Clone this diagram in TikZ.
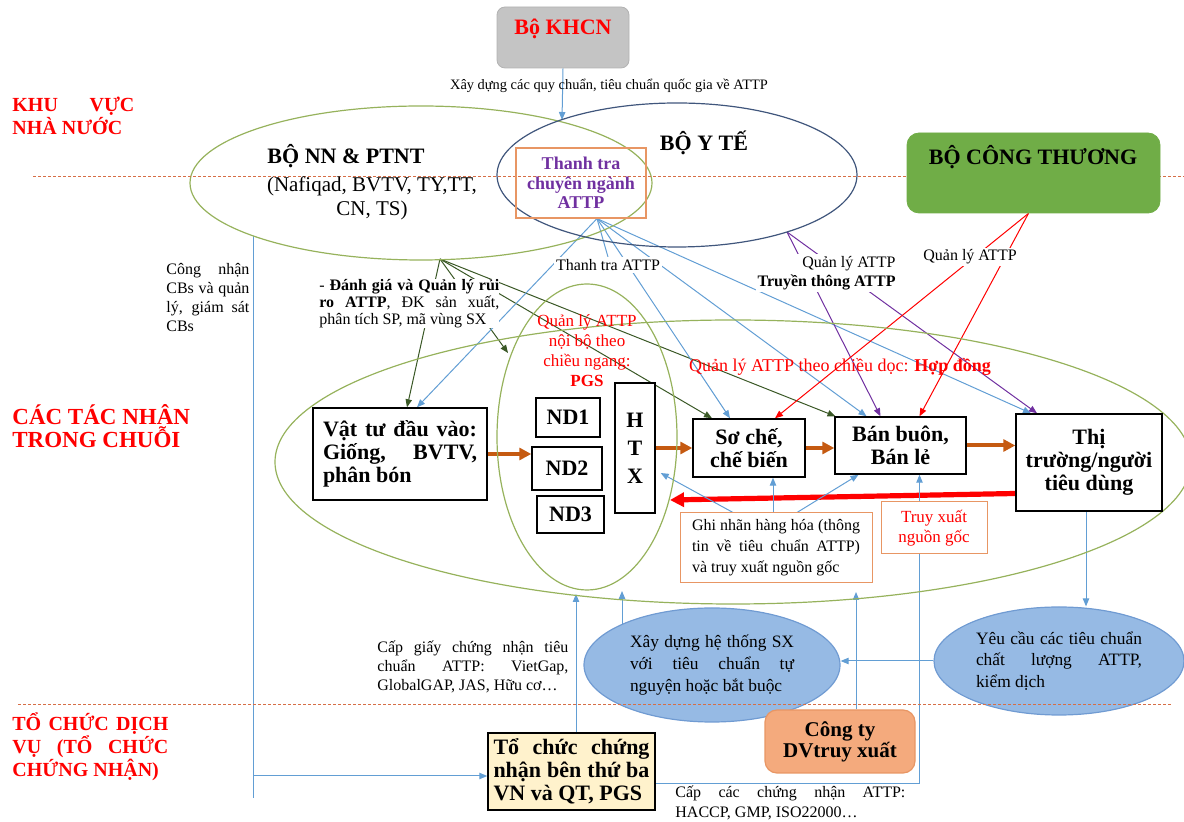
\documentclass[tikz,border=0pt]{standalone}
\usepackage{fontspec}
\setmainfont{Liberation Serif}
\usetikzlibrary{shapes.geometric, positioning, arrows.meta, calc}

\definecolor{ringgreen}{RGB}{150,178,92}
\definecolor{ytblue}{RGB}{64,86,124}
\definecolor{lineblue}{RGB}{98,158,212}
\definecolor{darkgreen}{RGB}{58,88,38}
\definecolor{attppurple}{RGB}{112,48,160}
\definecolor{flowbrown}{RGB}{197,90,17}
\definecolor{boxorange}{RGB}{232,150,100}
\definecolor{sepred}{RGB}{214,110,70}
\definecolor{ctgreen}{RGB}{112,173,71}
\definecolor{khcngray}{RGB}{196,196,196}
\definecolor{salmon}{RGB}{244,170,125}
\definecolor{paleyellow}{RGB}{255,242,204}
\definecolor{ellblue}{RGB}{150,186,228}
\definecolor{ellborder}{RGB}{112,155,210}

\pgfdeclarelayer{lines}
\pgfsetlayers{lines,main}

\begin{document}
\pretolerance=-1 \tolerance=10000 \hyphenpenalty=10000 \hbadness=10000
\begin{tikzpicture}[x=0.5pt, y=-0.5pt,
    every node/.style={font=\fontsize{8}{9.5}\selectfont, inner sep=1pt},
    ring/.style={ellipse, draw=ringgreen, line width=0.6pt, inner sep=0pt},
    bluering/.style={ellipse, draw=ellborder, fill=ellblue, line width=0.6pt, inner sep=0pt, text width=82pt, align=justify, font=\fontsize{8.7}{10.8}\selectfont},
    actor/.style={draw, line width=0.7pt, fill=white, inner sep=0pt, align=center, font=\fontsize{11}{11.5}\selectfont\bfseries},
    tagbox/.style={draw=boxorange, line width=0.5pt, fill=white, inner sep=2pt},
    region/.style={anchor=north west, text=red, align=justify, inner sep=0pt, font=\fontsize{10}{11.5}\selectfont\bfseries},
    note/.style={anchor=north west, align=justify, inner sep=0pt},
    cover/.style={fill=white, inner sep=1pt},
    link/.style={-{Triangle[length=4pt, width=3.2pt]}, line width=0.5pt},
    flow/.style={-{Triangle[length=6pt, width=6pt]}, line width=2pt, draw=flowbrown},
    backflow/.style={-{Triangle[length=7pt, width=7pt]}, line width=2.6pt, draw=red},
    sep/.style={draw=sepred, line width=0.5pt, dash pattern=on 1.5pt off 1pt}
]
    \useasboundingbox (0,0) rectangle (1184,822);

    % Region labels
    \node[region, text width=61pt] (khuvuc) at (12,97) {KHU VỰC\linebreak NHÀ NƯỚC};
    \node[region, align=left, font=\fontsize{11.5}{11.5}\selectfont\bfseries] (tacnhan) at (12,404) {CÁC TÁC NHÂN\\TRONG CHUỖI};
    \node[region, text width=78pt] (dichvu) at (12,712) {TỔ CHỨC DỊCH\linebreak VỤ (TỔ CHỨC\linebreak CHỨNG NHẬN)};

    % Rings
    \node[ring, minimum width=231pt, minimum height=77pt] (nn) at (421,183) {};
    \node[ring, draw=ytblue, minimum width=180pt, minimum height=72pt] (yt) at (677,175) {};
    \node[ring, minimum width=458pt, minimum height=142pt] (chain) at (733,462) {};
    \node[ring, minimum width=90pt, minimum height=153pt] (ndring) at (587,437) {};
    \node[bluering, minimum width=128pt, minimum height=57pt] (xaydung) at (712,665) {Xây dựng hệ thống SX\linebreak với tiêu chuẩn tự\linebreak nguyện hoặc bắt buộc};
    \node[bluering, minimum width=125pt, minimum height=54pt, text width=83pt] (yeucau) at (1059,661) {Yêu cầu các tiêu chuẩn\linebreak chất lượng ATTP,\linebreak kiểm dịch};

    % Sector borders
    \draw[sep] (33,177) -- (1184,177);
    \draw[sep] (18,705) -- (1172,705);

    % State level
    \node[draw=gray!60, fill=khcngray, rounded corners=4pt, minimum width=66pt, minimum height=30.5pt] (khcn) at (563,37.5) {};
    \node[text=red, font=\fontsize{11}{12}\selectfont\bfseries] (khcntext) at (563,29) {Bộ KHCN};
    \node[font=\fontsize{7.2}{8}\selectfont] (tieuchuan) at (609,86) {Xây dựng các quy chuẩn, tiêu chuẩn quốc gia về ATTP};
    \node[font=\fontsize{11}{12}\selectfont\bfseries] (nntitle) at (346,156) {BỘ NN \& PTNT};
    \node[font=\fontsize{10.5}{12}\selectfont, align=center] (nnsub) at (372,198) {(Nafiqad, BVTV, TY,TT,\\CN, TS)};
    \node[font=\fontsize{11}{12}\selectfont\bfseries] (yttitle) at (704,143) {BỘ Y TẾ};
    \node[draw=boxorange, line width=0.6pt, minimum width=65pt, minimum height=35pt, text=attppurple, align=center, font=\fontsize{9}{9.8}\selectfont\bfseries] (thanhtra) at (581,183) {Thanh tra\\chuyên ngành\\ATTP};
    \node[draw=ctgreen, fill=ctgreen, rounded corners=6pt, minimum width=126.5pt, minimum height=40pt] (ct) at (1033.5,173) {};
    \node[font=\fontsize{11}{12}\selectfont\bfseries] (cttext) at (1033,157) {BỘ CÔNG THƯƠNG};

    % Labels on the links
    \node[cover] (ttlabel) at (608,265) {Thanh tra ATTP};
    \node[cover, anchor=east, align=right] (truyenthong) at (898,273) {Quản lý ATTP\\\textbf{Truyền thông ATTP}};
    \node[cover] (ctlabel) at (970,257) {Quản lý ATTP};
    \node[note, text width=41.5pt] (congnhan) at (166,263) {Công nhận\linebreak CBs và quản\linebreak lý, giám sát\linebreak CBs};
    \node[note, fill=white, text width=90pt, font=\fontsize{8}{8.6}\selectfont] (danhgia) at (319,279) {- \textbf{Đánh giá và Quản lý rủi\linebreak ro ATTP}, ĐK sản xuất,\linebreak phân tích SP, mã vùng SX};
    \node[text=red, align=center, font=\fontsize{8.5}{10}\selectfont] (noibo) at (587,351) {Quản lý ATTP\\nội bộ theo\\chiều ngang:\\\textbf{PGS}};
    \node[text=red, font=\fontsize{9}{10}\selectfont] (doc) at (840,367) {Quản lý ATTP theo chiều dọc: \textbf{Hợp đồng}};

    % Actors in the chain
    \node[actor, minimum width=87pt, minimum height=46pt, text width=77pt, align=justify] (vattu) at (400,454) {Vật tư đầu vào:\linebreak Giống, BVTV,\linebreak phân bón};
    \node[actor, minimum width=32pt, minimum height=19.5pt] (nd1) at (568,417.5) {ND1};
    \node[actor, minimum width=35pt, minimum height=21.5pt] (nd2) at (567,468.5) {ND2};
    \node[actor, minimum width=33.5pt, minimum height=18.5pt] (nd3) at (570.5,514.5) {ND3};
    \node[actor, minimum width=20pt, minimum height=65pt, font=\fontsize{11}{14}\selectfont\bfseries] (htx) at (635,448) {H\\T\\X};
    \node[actor, minimum width=56pt, minimum height=29pt] (soche) at (749,448) {Sơ chế,\\chế biến};
    \node[actor, minimum width=65.5pt, minimum height=28.5pt] (banbuon) at (900.5,445.5) {Bán buôn,\\Bán lẻ};
    \node[actor, minimum width=73pt, minimum height=48.5pt] (thitruong) at (1089,462.5) {Thị\\trường/người\\tiêu dùng};
    \node[tagbox, minimum width=96pt, minimum height=35pt, text width=84pt, align=justify, font=\fontsize{8}{10.5}\selectfont] (ghinhan) at (776,548) {Ghi nhãn hàng hóa (thông\linebreak tin về tiêu chuẩn ATTP)\linebreak và truy xuất nguồn gốc};
    \node[tagbox, minimum width=53pt, minimum height=26pt, text=red, align=center, font=\fontsize{8.5}{10}\selectfont] (truyxuat) at (934,528) {Truy xuất\\nguồn gốc};

    % Service organisations
    \node[actor, fill=paleyellow, minimum width=83.5pt, minimum height=38.5pt, text width=78pt, align=justify] (tochuc) at (571.5,771.5) {Tổ chức chứng\linebreak nhận bên thứ ba\linebreak VN và QT, PGS};
    \node[draw=boxorange, fill=salmon, rounded corners=6pt, line width=0.6pt, minimum width=75pt, minimum height=31.5pt, align=center, font=\fontsize{10.5}{10.5}\selectfont\bfseries] (congty) at (840,741.5) {Công ty\\DVtruy xuất};
    \node[note, text width=95.5pt] (capgiay) at (377,641) {Cấp giấy chứng nhận tiêu\linebreak chuẩn ATTP: VietGap,\linebreak GlobalGAP, JAS, Hữu cơ…};
    \node[note, text width=115pt, font=\fontsize{8}{10}\selectfont] (capcac) at (675,786) {Cấp các chứng nhận ATTP:\linebreak HACCP, GMP, ISO22000…};

    % Points on the rings
    \coordinate (khcnEnd) at (562,120);
    \coordinate (nnFoot) at (440,259);
    \coordinate (nnLeft) at (253,236);
    \coordinate (ytFoot) at (787,232);
    \coordinate (ttFoot) at ($(thanhtra.south)+(16,0)$);
    \coordinate (ctFoot) at ($(ct.south)+(-5,0)$);
    \coordinate (ndEdge) at (508,353);
    \coordinate (ndBack) at (670,500);
    \coordinate (certDown) at (253,798);
    \coordinate (certTurn) at (253,776);
    \coordinate (ringUp1) at (576,594);
    \coordinate (ringUp2) at (622,591);
    \coordinate (ringUp3) at (856,592);
    \coordinate (xdTop) at (622,625);
    \coordinate (mkFoot) at ($(thitruong.south)+(-3,0)$);

    % Arrow ends on the boxes
    \coordinate (vtA) at ($(vattu.north)+(7,0)$);
    \coordinate (vtB) at ($(vattu.north)+(17,0)$);
    \coordinate (scA) at ($(soche.north)+(-37,0)$);
    \coordinate (scB) at ($(soche.north)+(-19,0)$);
    \coordinate (scC) at ($(soche.north)+(26,0)$);
    \coordinate (bbA) at ($(banbuon.north)+(-65,0)$);
    \coordinate (bbB) at ($(banbuon.north)+(-34,0)$);
    \coordinate (bbC) at ($(banbuon.north)+(-20,0)$);
    \coordinate (bbD) at ($(banbuon.north)+(19,0)$);
    \coordinate (mkA) at ($(thitruong.north)+(-58,0)$);
    \coordinate (mkB) at ($(thitruong.north)+(-52,0)$);

    \begin{pgfonlayer}{lines}
    % Management links
    \draw[link, lineblue] (khcn.south) -- (khcnEnd);
    \foreach \p in {vtA, ndEdge, scA, bbA}
        \draw[link, darkgreen] (nnFoot) -- (\p);
    \foreach \p in {vtB, scB, bbB, mkA}
        \draw[link, lineblue] (ttFoot) -- (\p);
    \draw[lineblue, line width=0.5pt] (ttFoot) -- (ttlabel.north);
    \foreach \p in {bbC, mkB}
        \draw[link, attppurple] (ytFoot) -- (\p);
    \foreach \p in {scC, bbD}
        \draw[link, red] (ctFoot) -- (\p);

    % Flow along the chain
    \draw[flow] (vattu.east) -- (vattu.east -| nd2.west);
    \draw[flow] (htx.east |- soche.west) -- (soche.west);
    \draw[flow] (soche.east) -- (soche.east -| banbuon.west);
    \draw[flow] (banbuon.east) -- (banbuon.east -| thitruong.west);
    \draw[backflow] ($(thitruong.west)+(0,31)$) -- (ndBack);

    % Labelling and traceability
    \draw[link, lineblue] ($(ghinhan.north)+(-43,0)$) -- ($(htx.east)+(5,25)$);
    \draw[link, lineblue] ($(ghinhan.north)+(-3,0)$) -- ($(soche.south)+(24,0)$);
    \draw[link, lineblue] ($(ghinhan.north)+(21,0)$) -- ($(banbuon.south)+(-42,0)$);

    % Certification
    \draw[lineblue, line width=0.5pt] (nnLeft) -- (certDown);
    \draw[link, lineblue] (certTurn) -- (certTurn -| tochuc.west);
    \draw[link, lineblue] (tochuc.north -| ringUp1) -- (ringUp1);
    \draw[link, lineblue] ($(tochuc.east)+(0,12)$) -| ($(banbuon.south)+(19,0)$);
    \draw[link, lineblue] (congty.north -| ringUp3) -- (ringUp3);
    \draw[link, lineblue] (xdTop) -- (ringUp2);
    \draw[link, lineblue] (yeucau.west) -- (yeucau.west -| xaydung.east);
    \draw[link, lineblue] (mkFoot) -- (mkFoot |- yeucau.north);
    \end{pgfonlayer}
\end{tikzpicture}
\end{document}
